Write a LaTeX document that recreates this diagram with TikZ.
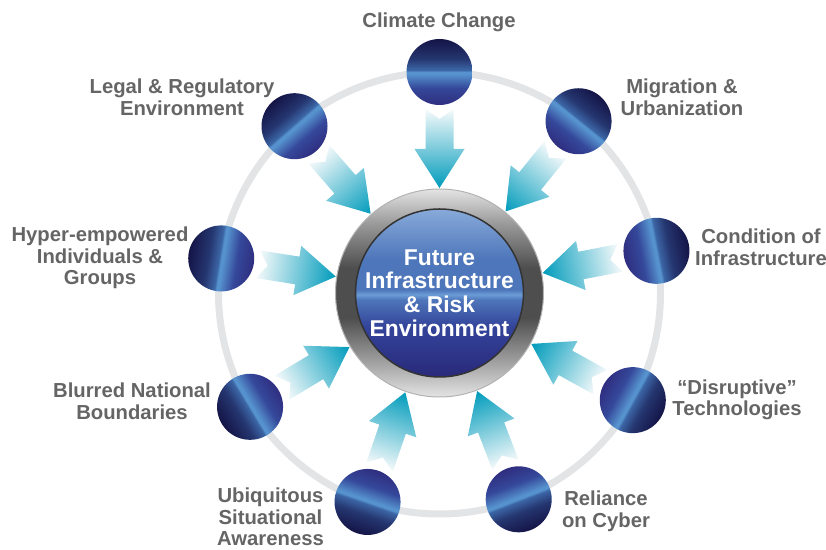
\documentclass[tikz,border=0pt]{standalone}
\usepackage{fontspec}
\setmainfont{Liberation Sans}
\usetikzlibrary{calc}

% цвета
\definecolor{ringgray}{HTML}{E3E4E6}
\definecolor{labelgray}{HTML}{656565}
\definecolor{arrowtip}{HTML}{009BBB}
\definecolor{arrowmid}{HTML}{84C6D8}
\definecolor{arrowtail}{HTML}{F6FAFB}
\definecolor{orbin}{HTML}{2F2E80}
\definecolor{orbmidA}{HTML}{35489A}
\definecolor{orbhi}{HTML}{5693CE}
\definecolor{orbmidB}{HTML}{3C66A6}
\definecolor{orbmidC}{HTML}{253670}
\definecolor{orbout}{HTML}{141446}
\definecolor{silverlight}{HTML}{E4E4E4}
\definecolor{silvermid}{HTML}{9C9C9C}
\definecolor{silverdark}{HTML}{4E4E4E}
\definecolor{diskbot}{HTML}{29297A}
\definecolor{disklow}{HTML}{33449A}
\definecolor{diskline}{HTML}{6C9CD6}
\definecolor{diskup}{HTML}{4E76BA}
\definecolor{disktop}{HTML}{88AADA}

% шар: внутренняя сторона снизу, тёмная сверху, светлая полоса посередине
\pgfdeclareverticalshading{orbshade}{100bp}{%
  color(0bp)=(orbin); color(25bp)=(orbin); color(38bp)=(orbmidA);
  color(48.5bp)=(orbhi); color(50bp)=(orbhi); color(51.5bp)=(orbmidB);
  color(60bp)=(orbmidC); color(75bp)=(orbout); color(100bp)=(orbout)}
% металлическое кольцо
\pgfdeclareverticalshading{hubring}{100bp}{%
  color(0bp)=(silverlight); color(25bp)=(silverlight); color(34bp)=(silvermid);
  color(44bp)=(silverdark); color(56bp)=(silverdark); color(67bp)=(silvermid);
  color(75bp)=(silverlight); color(100bp)=(silverlight)}
% синий диск
\pgfdeclareverticalshading{hubdisk}{100bp}{%
  color(0bp)=(diskbot); color(25bp)=(diskbot); color(40bp)=(disklow);
  color(48bp)=(diskup); color(49.5bp)=(diskline); color(51bp)=(diskup);
  color(60bp)=(diskup); color(75bp)=(disktop); color(100bp)=(disktop)}

\begin{document}
\begin{tikzpicture}[x=0.3mm, y=0.3mm,
	orb/.style={circle, minimum size=19.8mm, inner sep=0pt, shading=orbshade},
	lbl/.style={text=labelgray, font=\bfseries\fontsize{17.3}{18.4}\selectfont,
		align=center, inner sep=0pt},
	beam/.style={left color=arrowtip, middle color=arrowmid, right color=arrowtail}]
	% параметры
	\def\R{221}    % радиус серого кольца
	\def\Rout{104} % внешний радиус центра
	\def\Rin{84}   % радиус синего диска

	\useasboundingbox (0,0) rectangle (826,550);
	\coordinate (hub) at (439.5,257);

	% серое кольцо
	\draw[ringgray, line width=2.1mm] (hub) circle (\R);

	% стрелки к центру
	\foreach \a in {90,51,11,-29,-69,-109,-149,171,131}{
		\begin{scope}[transform canvas={shift={(hub)}, rotate=\a}]
			\shade[beam] (184,14) -- (144,14) -- (144,25) -- (105,0) -- (144,-25)
				-- (144,-14) -- (184,-14) -- (174,0) -- cycle;
		\end{scope}
	}

	% центр
	\shade[shading=hubring] (hub) circle (\Rout);
	\draw[gray!60, line width=0.3mm] (hub) circle (\Rout);
	\shade[shading=hubdisk] (hub) circle (\Rin);
	\draw[black!80, line width=0.45mm] (hub) circle (\Rin);
	\node[text=white, font=\bfseries\fontsize{19.5}{20.1}\selectfont, align=center]
		(hubtext) at (hub) {Future\\Infrastructure\\\& Risk\\Environment};

	% шары по кольцу
	\foreach \a [count=\i, evaluate=\a as \sa using \a-90] in {90,51,11,-29,-69,-109,-149,171,131}
		\node[orb, shading angle=\sa] (o\i) at ($(hub)+(\a:\R)$) {};

	% подписи
	\node[lbl] (climate) at (439,528) {Climate Change};
	\node[lbl] (migration) at (682,452.5) {Migration \&\\Urbanization};
	\node[lbl] (condition) at (761,303) {Condition of\\Infrastructure};
	\node[lbl] (disruptive) at (737,150) {“Disruptive”\\Technologies};
	\node[lbl] (cyber) at (606,39) {Reliance\\on Cyber};
	\node[lbl] (awareness) at (270.5,33) {Ubiquitous\\Situational\\Awareness};
	\node[lbl] (borders) at (132,149) {Blurred National\\Boundaries};
	\node[lbl] (groups) at (100,292) {Hyper-empowered\\Individuals \&\\Groups};
	\node[lbl] (legal) at (182,452.5) {Legal \& Regulatory\\Environment};
\end{tikzpicture}
\end{document}
